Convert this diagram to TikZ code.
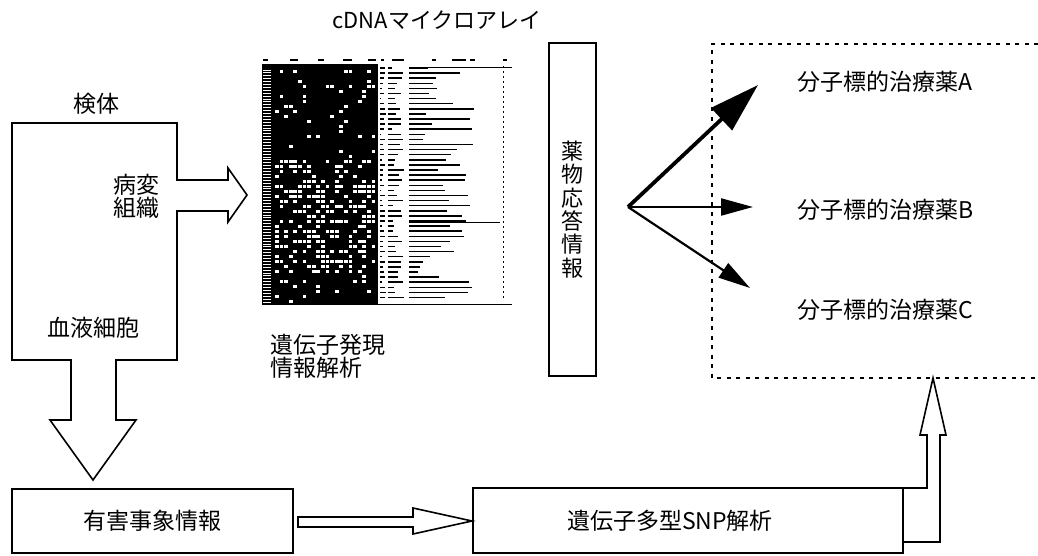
\documentclass[tikz,border=0pt]{standalone}
\usepackage{fontspec}
\setmainfont{Noto Sans CJK JP}
\usetikzlibrary{arrows.meta}
\begin{document}
\begin{tikzpicture}[x=1pt,y=-1pt,
  lw/.style={line width=1.6pt},
  box/.style={draw,lw,inner sep=0pt},
  lbl/.style={inner sep=0pt,font=\fontsize{23}{23}\selectfont},
  blockarrow/.style={draw,lw,fill=white,line join=miter},
  dotbox/.style={line width=1.5pt,dash pattern=on 4pt off 5.5pt},
  linearrow/.style={line width=2.2pt,-{Triangle[length=32pt,width=17pt]}},
  thickarrow/.style={line width=3.8pt,-{Triangle[length=50pt,width=30pt]}}
]
\useasboundingbox (0,0) rectangle (1038,556);
\fill[white] (0,0) rectangle (1038,556);

% ---------- specimen box ----------
\node[box,minimum width=165pt,minimum height=237pt] (spec) at (94.5,241.5) {};
\node[lbl] (kentai) at (96,104) {検体};
\node[lbl,align=right,anchor=east] (byohen) at (160,196.5) {病変\\組織};
\node[lbl] (ketsueki) at (93,328) {血液細胞};

% block arrow to microarray
\path[blockarrow] (176,180) -- (228,180) -- (228,168) -- (247,195) -- (228,222) -- (228,211) -- (176,211);
\coordinate (ma) at (247,195);

% block arrow down
\path[blockarrow] (71,359) -- (71,420) -- (50,420) -- (93,480) -- (136,420) -- (116,420) -- (116,359);

% ---------- microarray image ----------
\node[lbl,font=\fontsize{22}{22}\selectfont] (cdna) at (437,20) {cDNAマイクロアレイ};
\fill (262,64) rectangle (378,305);
\pgfmathsetseed{7}
\foreach \k in {0,...,80}{
  \draw[white,line width=0.9pt] (263,{70+\k*2.9}) -- (271,{70+\k*2.9});
}
\foreach \i in {0,...,46}{
  \foreach \j in {0,...,21}{
    \pgfmathsetmacro{\rr}{rnd}
    \pgfmathsetmacro{\pp}{(\i<4)?0.15:((\i<18)?0.09:((\i<23)?0.30:((\i<41)?0.42:0.16)))}
    \ifdim\rr pt<\pp pt
      \fill[white] ({275+\j*4.6},{70+\i*5}) rectangle ++(3.8,3.2);
    \fi
  }
}
% header marks
\foreach \hx/\hl in {263/5,290/8,318/6,343/9,368/8,381/3,392/12,432/4,452/14,470/5,503/4}{
  \draw[line width=1.4pt] (\hx,60) -- ++(\hl,0);
}
% list rows
\foreach \k in {0,...,45}{
  \pgfmathsetmacro{\yy}{68+\k*5.1}
  \pgfmathsetmacro{\la}{1+rnd*5}
  \pgfmathsetmacro{\lb}{4+rnd*13}
  \pgfmathsetmacro{\lc}{5+rnd*60}
  \draw[line width=1.5pt] (380,\yy) -- ++(\la,0);
  \draw[line width=1.5pt] (388,\yy) -- ++(\lb,0);
  \draw[line width=1.5pt] (409,\yy) -- ++(\lc,0);
}
\draw[line width=1pt,dash pattern=on 2pt off 3pt] (503,66) -- (503,300);
\draw[line width=1pt] (378,304) -- (512,304);
\draw[line width=1pt] (409,68) -- (512,68);
\draw[line width=1pt] (409,222) -- (500,222);

\node[lbl,align=left,anchor=west] (idenshi) at (270,356) {遺伝子発現\\情報解析};

% ---------- drug response box ----------
\node[box,minimum width=47pt,minimum height=333pt,align=center,
      font=\fontsize{22}{23.3}\selectfont] (yakubutsu) at (572.5,209.5) {薬\\物\\応\\答\\情\\報};

% ---------- dotted region ----------
\draw[dotbox] (1038,44) -- (712,44) -- (712,378) -- (1038,378);
\node[lbl,anchor=west] (drugA) at (797,82) {分子標的治療薬A};
\node[lbl,anchor=west] (drugB) at (797,210) {分子標的治療薬B};
\node[lbl,anchor=west] (drugC) at (797,310) {分子標的治療薬C};

\coordinate (o) at (628,207);
\coordinate (ta) at (758,85);
\coordinate (tb) at (753,207);
\coordinate (tc) at (750,288);
\draw[thickarrow] (o) -- (ta);
\draw[linearrow] (o) -- (tb);
\draw[linearrow] (o) -- (tc);

% ---------- bottom boxes ----------
\node[box,minimum width=281pt,minimum height=64pt,font=\fontsize{23}{23}\selectfont] (yugai) at (152.5,521) {有害事象情報};
\node[box,minimum width=430pt,minimum height=65pt,font=\fontsize{23}{23}\selectfont] (snp) at (688,520.5) {\hspace*{-36pt}遺伝子多型SNP解析};

\path[blockarrow] (298,517) -- (413,517) -- (413,508) -- (472,521) -- (413,534) -- (413,527) -- (298,527) -- cycle;

\coordinate (snptip) at (933,378);
\draw[lw,line join=miter] (903,488) -- (927,488) -- (927,435) -- (920,435) -- (snptip) -- (946,435) -- (940,435) -- (940,542) -- (903,542);
\end{tikzpicture}
\end{document}
